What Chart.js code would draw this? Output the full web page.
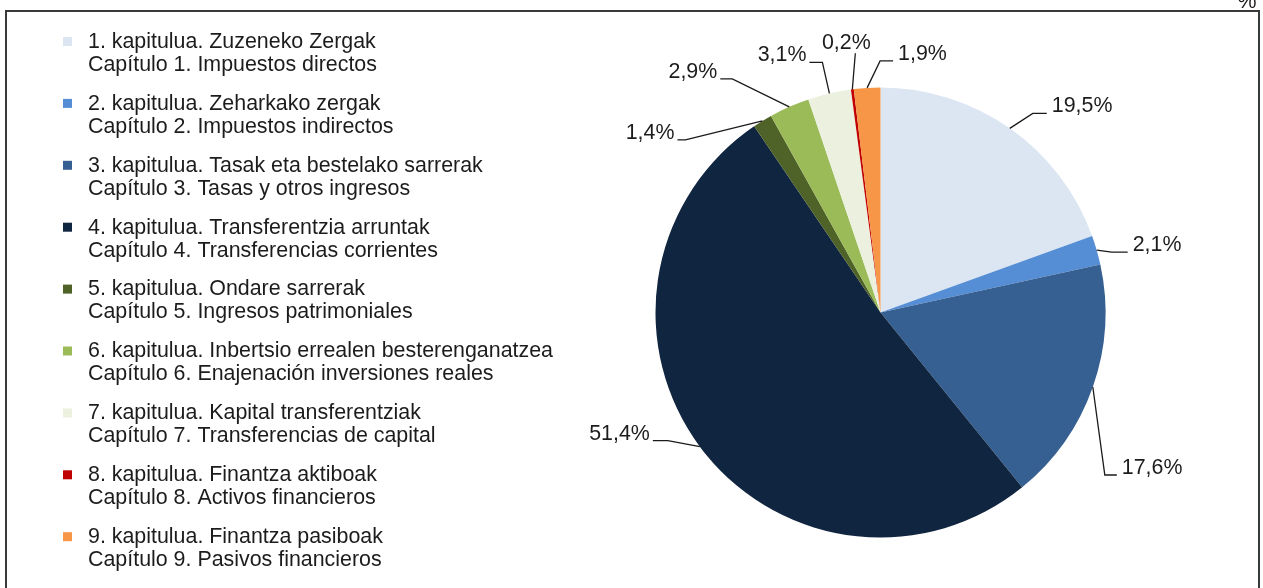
<!DOCTYPE html>
<html>
<head>
<meta charset="utf-8">
<script src="https://cdn.jsdelivr.net/npm/chart.js@4/dist/chart.umd.min.js"></script>
<style>
  html, body { margin: 0; padding: 0; background: #ffffff; }
  #wrap { width: 1263px; height: 588px; position: relative; }
</style>
</head>
<body>
<div id="wrap"><canvas id="c" width="1263" height="588"></canvas></div>
<script>
// ---- Data ----
const categoriesEu = [
  '1. kapitulua. Zuzeneko Zergak',
  '2. kapitulua. Zeharkako zergak',
  '3. kapitulua. Tasak eta bestelako sarrerak',
  '4. kapitulua. Transferentzia arruntak',
  '5. kapitulua. Ondare sarrerak',
  '6. kapitulua. Inbertsio errealen besterenganatzea',
  '7. kapitulua. Kapital transferentziak',
  '8. kapitulua. Finantza aktiboak',
  '9. kapitulua. Finantza pasiboak'
];
const categoriesEs = [
  'Capítulo 1. Impuestos directos',
  'Capítulo 2. Impuestos indirectos',
  'Capítulo 3. Tasas y otros ingresos',
  'Capítulo 4. Transferencias corrientes',
  'Capítulo 5. Ingresos patrimoniales',
  'Capítulo 6. Enajenación inversiones reales',
  'Capítulo 7. Transferencias de capital',
  'Capítulo 8. Activos financieros',
  'Capítulo 9. Pasivos financieros'
];
const shares = [19.5, 2.1, 17.6, 51.4, 1.4, 2.9, 3.1, 0.2, 1.9];
const unitLabel = '%';

// ---- Styles / layout ----
const sliceColors = ['#DCE6F2', '#558ED5', '#376092', '#10253F', '#4F6228', '#9BBB59', '#EBF1DE', '#C00000', '#F79646'];
const FONT = '21.4px "Liberation Sans", Arial, sans-serif';
const TEXT_COLOR = '#1c1c1c';
// leader-line layout relative to each slice's outer mid point
const labelLayout = [
  { dx: 37,  dy: -15, h: 14, side: 'right' },
  { dx: 31,  dy: 2,   h: 16, side: 'right' },
  { dx: 24,  dy: 88,  h: 12, side: 'right' },
  { dx: -47, dy: -6,  h: 15, side: 'left' },
  { dx: -85, dy: 19,  h: 8,  side: 'left' },
  { dx: -69, dy: -28, h: 12, side: 'left' },
  { dx: -20, dy: -31, h: 13, side: 'left' },
  { dx: 3,   dy: -36, h: 0,  side: 'top' },
  { dx: 26,  dy: -27, h: 13, side: 'right' }
];

const fmt = v => v.toFixed(1).replace('.', ',') + '%';

const framePlugin = {
  id: 'frame',
  beforeDraw(chart) {
    const ctx = chart.ctx;
    ctx.save();
    ctx.fillStyle = '#ffffff';
    ctx.fillRect(0, 0, chart.width, chart.height);
    ctx.strokeStyle = '#3a3a3a';
    ctx.lineWidth = 2;
    ctx.strokeRect(6, 11, 1253, 600);
    ctx.fillStyle = TEXT_COLOR;
    ctx.font = FONT;
    ctx.textAlign = 'center';
    ctx.textBaseline = 'alphabetic';
    ctx.fillText(unitLabel, 1247, 8);
    ctx.restore();
  }
};

const legendPlugin = {
  id: 'twoLineLegend',
  afterDraw(chart) {
    const ctx = chart.ctx;
    const colors = chart.data.datasets[0].backgroundColor;
    ctx.save();
    ctx.font = FONT;
    ctx.textAlign = 'left';
    ctx.textBaseline = 'middle';
    for (let i = 0; i < categoriesEu.length; i++) {
      const y1 = 42 + i * 61.9;
      const y2 = y1 + 23;
      ctx.fillStyle = colors[i];
      ctx.fillRect(63, y1 - 5, 9, 9);
      ctx.fillStyle = TEXT_COLOR;
      ctx.fillText(categoriesEu[i], 88, y1);
      ctx.fillText(categoriesEs[i], 88, y2);
    }
    ctx.restore();
  }
};

const labelPlugin = {
  id: 'leaderLabels',
  afterDatasetsDraw(chart) {
    const ctx = chart.ctx;
    const meta = chart.getDatasetMeta(0);
    const values = chart.data.datasets[0].data;
    ctx.save();
    ctx.font = FONT;
    meta.data.forEach((arc, i) => {
      const p = arc.getProps(['x', 'y', 'startAngle', 'endAngle', 'outerRadius'], true);
      const mid = (p.startAngle + p.endAngle) / 2;
      const ax = p.x + Math.cos(mid) * p.outerRadius;
      const ay = p.y + Math.sin(mid) * p.outerRadius;
      const L = labelLayout[i];
      const cx = ax + L.dx, cy = ay + L.dy;
      ctx.strokeStyle = '#1a1a1a';
      ctx.lineWidth = 1.3;
      ctx.beginPath();
      ctx.moveTo(ax, ay);
      if (L.side === 'right') ctx.lineTo(cx - L.h, cy);
      else if (L.side === 'left') ctx.lineTo(cx + L.h, cy);
      ctx.lineTo(cx, cy);
      ctx.stroke();
      ctx.fillStyle = TEXT_COLOR;
      ctx.textBaseline = 'middle';
      const txt = fmt(values[i]);
      if (L.side === 'right') {
        ctx.textAlign = 'left';
        ctx.fillText(txt, cx + 5, cy - 7);
      } else if (L.side === 'left') {
        ctx.textAlign = 'right';
        ctx.fillText(txt, cx - 3, cy - 7);
      } else {
        ctx.textAlign = 'center';
        ctx.fillText(txt, cx - 9, cy - 10);
      }
    });
    ctx.restore();
  }
};

new Chart(document.getElementById('c'), {
  type: 'pie',
  data: {
    labels: categoriesEu,
    datasets: [{
      data: shares,
      backgroundColor: sliceColors,
      borderWidth: 0,
      hoverOffset: 0
    }]
  },
  options: {
    responsive: false,
    animation: false,
    events: [],
    layout: { padding: { left: 655.5, right: 157.5, top: 87.5, bottom: 50.5 } },
    plugins: {
      legend: { display: false },
      tooltip: { enabled: false }
    }
  },
  plugins: [framePlugin, legendPlugin, labelPlugin]
});
</script>
</body>
</html>
